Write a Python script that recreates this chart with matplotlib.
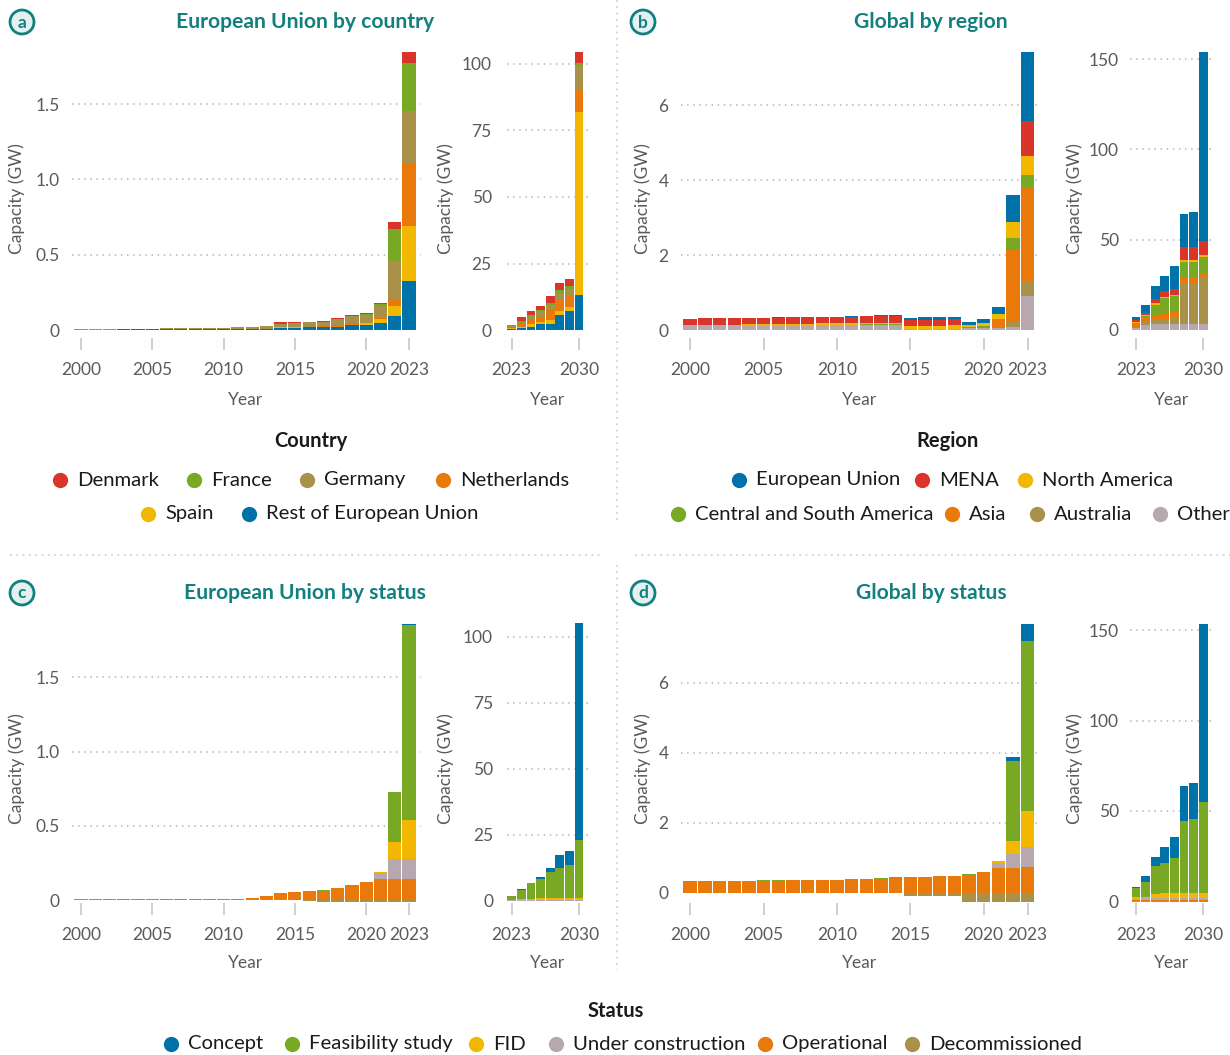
import numpy as np
import matplotlib.pyplot as plt
from matplotlib.patches import Circle

plt.rcParams['font.family'] = ['Lato', 'DejaVu Sans']

# ---------------- data (GW) ----------------
years = np.arange(2000, 2024)
years_p = np.arange(2023, 2031)

# (a) European Union by country, historic 2000-2023
rest_eu = [0, 0, 0, 0.007, 0.007, 0.007, 0.008, 0.008, 0.008, 0.008, 0.008, 0.005,
           0.005, 0.005, 0.015, 0.015, 0.02, 0.02, 0.022, 0.035, 0.035, 0.046, 0.093, 0.327]
spain = [0, 0, 0, 0, 0, 0, 0, 0, 0, 0, 0, 0.003,
         0, 0, 0.004, 0.005, 0, 0, 0, 0, 0.009, 0.029, 0.066, 0.363]
netherlands = [0, 0, 0, 0, 0.003, 0.002, 0, 0, 0, 0, 0, 0,
               0.005, 0.003, 0, 0, 0, 0.008, 0.009, 0.009, 0, 0.007, 0.044, 0.416]
germany = [0.005, 0.005, 0.005, 0.003, 0, 0, 0.003, 0.003, 0.003, 0.003, 0.003, 0.01,
           0.008, 0.019, 0.024, 0.027, 0.033, 0.027, 0.042, 0.046, 0.057, 0.077, 0.254, 0.347]
france = [0, 0, 0, 0, 0, 0, 0, 0, 0, 0, 0, 0,
          0, 0, 0, 0, 0, 0, 0, 0.004, 0.006, 0.013, 0.212, 0.319]
denmark = [0, 0, 0, 0, 0, 0, 0, 0, 0, 0, 0, 0,
           0, 0, 0.007, 0.009, 0, 0.006, 0.009, 0.006, 0.006, 0.006, 0.046, 0.073]

# (a) projection 2023-2030
rest_eu_p = [0.33, 0.8, 1.3, 2.3, 2.4, 5.6, 7.2, 13.2]
spain_p = [0.36, 0.3, 1.1, 0.9, 1.5, 1.6, 1.6, 68.6]
netherlands_p = [0.42, 1.3, 1.6, 1.8, 3.5, 4.4, 4.0, 8.5]
germany_p = [0.35, 0.4, 1.0, 2.0, 2.1, 2.4, 2.8, 9.2]
france_p = [0.32, 0.5, 0.6, 0.6, 0.75, 1.0, 1.0, 1.0]
denmark_p = [0.07, 1.5, 1.5, 1.25, 2.6, 2.6, 2.6, 4.1]

# (b) Global by region, historic
other = [0.133] * 15 + [0.035] * 4 + [0.062] * 3 + [0.089, 0.907]
australia = [0] * 22 + [0.133, 0.4]
asia = [0] * 21 + [0.231, 1.91, 2.507]
csa = [0, 0, 0, 0, 0, 0, 0, 0, 0, 0, 0, 0,
       0.027, 0.027, 0.027, 0, 0, 0, 0, 0.027, 0.044, 0, 0.32, 0.32]
north_america = [0] * 4 + [0.027] * 5 + [0.053] * 3 + [0.027] * 3 + [0.071] * 3 + \
                [0.098, 0.044, 0.08, 0.133, 0.427, 0.507]
mena = [0.16] + [0.196] * 3 + [0.169] * 3 + [0.187] * 2 + [0.16] * 3 + [0.187] * 3 + \
       [0.16] * 3 + [0.151] + [0] * 4 + [0.933]
eu = [0, 0, 0, 0, 0, 0, 0.027, 0, 0, 0, 0, 0.027,
      0, 0.027, 0.027, 0.062, 0.08, 0.08, 0.062, 0.08, 0.107, 0.187, 0.72, 1.84]

# (b) projection
other_p = [0.907, 2.8, 3.3, 3.3, 3.3, 3.3, 3.3, 3.3]
australia_p = [0.4, 1.8, 2.6, 2.6, 3.9, 22.7, 22.7, 26.0]
asia_p = [2.507, 2.8, 2.2, 3.0, 2.8, 2.95, 2.95, 2.2]
csa_p = [0.32, 0.6, 5.7, 9.0, 8.9, 8.7, 8.7, 8.9]
north_america_p = [0.507, 0.4, 1.1, 0.6, 0.6, 1.1, 1.1, 1.1]
mena_p = [0.933, 0.9, 2.2, 3.1, 3.3, 7.2, 7.2, 7.7]
eu_p = [1.84, 4.6, 7.2, 8.3, 12.7, 18.5, 19.4, 104.6]

# (c) European Union by status, historic
dec_eu = [0] * 16 + [-0.005] + [-0.013] * 7
op_eu = [0.004, 0.004, 0.004, 0.006, 0.006, 0.006, 0.006, 0.006, 0.006, 0.006, 0.006, 0.009,
         0.016, 0.029, 0.049, 0.056, 0.061, 0.063, 0.083, 0.101, 0.121, 0.144, 0.144, 0.144]
uc_eu = [0] * 21 + [0.036, 0.13, 0.13]
fid_eu = [0] * 21 + [0.009, 0.117, 0.265]
feas_eu = [0] * 17 + [0.004, 0, 0, 0, 0, 0.337, 1.315]
concept_eu = [0] * 23 + [0.007]

# (c) projection
dec_eu_p = [-0.013] * 8
op_eu_p = [0.144, 0.15, 0.15, 0.15, 0.15, 0.15, 0.15, 0.15]
uc_eu_p = [0.13, 0.13, 0.15, 0.3, 0.3, 0.3, 0.3, 0.3]
fid_eu_p = [0.265, 0.5, 0.4, 0.5, 0.5, 0.5, 0.5, 0.5]
feas_eu_p = [1.315, 3.3, 6.2, 7.5, 10.1, 11.7, 12.7, 22.2]
concept_eu_p = [0.007, 0.4, 0.05, 0.5, 1.6, 4.9, 5.4, 82.2]

# (d) Global by status, historic
dec_gl = [0] * 15 + [-0.095] * 4 + [-0.267] * 5
op_gl = [0.314, 0.314, 0.333, 0.333, 0.333, 0.343, 0.343, 0.362, 0.362, 0.362, 0.362, 0.39,
         0.39, 0.4, 0.43, 0.448, 0.448, 0.467, 0.476, 0.505, 0.59, 0.714, 0.714, 0.733]
uc_gl = [0] * 21 + [0.124, 0.4, 0.571]
fid_gl = [0] * 21 + [0.067, 0.371, 1.029]
feas_gl = [0.02, 0.02, 0, 0, 0, 0.02, 0.02, 0, 0, 0, 0, 0,
           0, 0.02, 0.02, 0, 0, 0.02, 0, 0.02, 0, 0, 2.276, 4.857]
concept_gl = [0] * 22 + [0.114, 0.486]

# (d) projection
dec_gl_p = [-0.27] * 8
op_gl_p = [0.733, 0.75, 0.75, 0.75, 0.75, 0.75, 0.75, 0.75]
uc_gl_p = [0.571, 0.7, 0.7, 1.0, 1.0, 1.0, 1.0, 1.0]
fid_gl_p = [1.029, 1.0, 2.6, 2.6, 2.6, 2.6, 2.6, 2.6]
feas_gl_p = [4.857, 8.1, 15.5, 16.6, 19.6, 39.9, 41.0, 50.5]
concept_gl_p = [0.486, 3.3, 5.0, 8.9, 11.5, 19.6, 20.0, 98.7]

country_names = ['Denmark', 'France', 'Germany', 'Netherlands', 'Spain', 'Rest of European Union']
region_names = ['European Union', 'MENA', 'North America', 'Central and South America',
                'Asia', 'Australia', 'Other']
status_names = ['Concept', 'Feasibility study', 'FID', 'Under construction',
                'Operational', 'Decommissioned']

# ---------------- style ----------------
BLUE = '#0072aa'
RED = '#d9352a'
YELLOW = '#f2b700'
GREEN = '#79a824'
ORANGE = '#e8790a'
TAN = '#aa914a'
MAUVE = '#b7a8b0'
TEAL = '#12807f'
GREY = '#5a5a5a'

W, H = 1230, 1055
fig = plt.figure(figsize=(W / 100, H / 100), dpi=100)


def px_axes(x0, x1, y0, y1):
    # pixel box with top-left origin -> figure axes
    return fig.add_axes([x0 / W, 1 - y1 / H, (x1 - x0) / W, (y1 - y0) / H])


def stacked(ax, yrs, series, colors):
    bottom = np.zeros(len(yrs))
    for vals, c in zip(series, colors):
        vals = np.asarray(vals, dtype=float)
        neg = vals < 0
        ax.bar(yrs, vals, width=0.92, bottom=np.where(neg, 0, bottom), color=c, lw=0, zorder=3)
        bottom = bottom + np.where(neg, 0, vals)


def style(ax, xlim, ylim, yticks, ylabels, xticks, ypad):
    ax.set_xlim(xlim)
    ax.set_ylim(ylim)
    for s in ax.spines.values():
        s.set_visible(False)
    ax.patch.set_alpha(0)
    ax.set_yticks(yticks, ylabels)
    ax.tick_params(axis='y', length=0, pad=ypad, labelsize=12.5, labelcolor=GREY)
    ax.set_xticks(xticks, [str(x) for x in xticks])
    ax.tick_params(axis='x', length=8.6, width=1.3, color='#cccccc', pad=8.5,
                   labelsize=12.5, labelcolor=GREY)
    for t in yticks[1:]:
        ax.axhline(t, color='#b5b5b5', ls=(0, (1, 3)), lw=1.1, zorder=1)


hist_ticks = [2000, 2005, 2010, 2015, 2020, 2023]
proj_ticks = [2023, 2030]

col_country = [BLUE, YELLOW, ORANGE, TAN, GREEN, RED]
col_region = [MAUVE, TAN, ORANGE, GREEN, YELLOW, RED, BLUE]
col_status = [TAN, ORANGE, MAUVE, YELLOW, GREEN, BLUE]

# (a)
ax = px_axes(72, 421, 48, 338)
stacked(ax, years, [rest_eu, spain, netherlands, germany, france, denmark], col_country)
style(ax, (1999.37, 2023.84), (-0.053, 1.872), [0, 0.5, 1.0, 1.5], ['0', '0.5', '1.0', '1.5'],
      hist_ticks, 9)
ax = px_axes(507, 588, 48, 338)
stacked(ax, years_p, [rest_eu_p, spain_p, netherlands_p, germany_p, france_p, denmark_p], col_country)
style(ax, (2022.51, 2030.93), (-3.0, 106.0), [0, 25, 50, 75, 100], ['0', '25', '50', '75', '100'],
      proj_ticks, 11)

# (b)
ax = px_axes(681, 1041, 48, 338)
stacked(ax, years, [other, australia, asia, csa, north_america, mena, eu], col_region)
style(ax, (1999.37, 2023.91), (-0.213, 7.52), [0, 2, 4, 6], ['0', '2', '4', '6'], hist_ticks, 9)
ax = px_axes(1130, 1212, 48, 338)
stacked(ax, years_p, [other_p, australia_p, asia_p, csa_p, north_america_p, mena_p, eu_p], col_region)
style(ax, (2022.375, 2030.92), (-4.43, 156.1), [0, 50, 100, 150], ['0', '50', '100', '150'],
      proj_ticks, 8)

# (c)
ax = px_axes(72, 421, 620, 903)
stacked(ax, years, [dec_eu, op_eu, uc_eu, fid_eu, feas_eu, concept_eu], col_status)
style(ax, (1999.37, 2023.84), (-0.02, 1.887), [0, 0.5, 1.0, 1.5], ['0', '0.5', '1.0', '1.5'],
      hist_ticks, 9)
ax = px_axes(507, 588, 620, 903)
stacked(ax, years_p, [dec_eu_p, op_eu_p, uc_eu_p, fid_eu_p, feas_eu_p, concept_eu_p], col_status)
style(ax, (2022.51, 2030.93), (-0.76, 106.3), [0, 25, 50, 75, 100], ['0', '25', '50', '75', '100'],
      proj_ticks, 10)

# (d)
ax = px_axes(681, 1041, 620, 903)
stacked(ax, years, [dec_gl, op_gl, uc_gl, fid_gl, feas_gl, concept_gl], col_status)
style(ax, (1999.37, 2023.91), (-0.294, 7.79), [0, 2, 4, 6], ['0', '2', '4', '6'], hist_ticks, 9)
ax = px_axes(1130, 1212, 620, 903)
stacked(ax, years_p, [dec_gl_p, op_gl_p, uc_gl_p, fid_gl_p, feas_gl_p, concept_gl_p], col_status)
style(ax, (2022.375, 2030.92), (-1.1, 155.8), [0, 50, 100, 150], ['0', '50', '100', '150'],
      proj_ticks, 8)

# ---------------- overlay: titles, labels, legends, separators ----------------
ov = fig.add_axes([0, 0, 1, 1], zorder=-1)
ov.set_xlim(0, W)
ov.set_ylim(H, 0)
ov.axis('off')

sep = dict(color='#c5d9dc', ls=(0, (1, 2.5)), lw=1.3)
ov.plot([617, 617], [0, 522], **sep)
ov.plot([617, 617], [565, 970], **sep)
ov.plot([10, 603], [555, 555], **sep)
ov.plot([635, 1230], [555, 555], **sep)

for letter, cx, cy, title, tx in [('a', 22, 22, 'European Union by country', 305),
                                  ('b', 643, 22, 'Global by region', 931),
                                  ('c', 22, 593, 'European Union by status', 305),
                                  ('d', 643, 593, 'Global by status', 931)]:
    ov.add_patch(Circle((cx, cy), 12, fc='#e4f1f1', ec=TEAL, lw=2))
    ov.text(cx, cy + 0.5, letter, ha='center', va='center', fontsize=12.5, fontweight='bold', color=TEAL)
    ov.text(tx, cy, title, ha='center', va='center', fontsize=15.2, fontweight='bold', color=TEAL)

for y in (199, 769):
    for x in (17, 446, 643, 1075):
        ov.text(x, y, 'Capacity (GW)', rotation=90, ha='center', va='center', fontsize=12.5, color=GREY)
for y in (400, 963):
    for x in (246, 547, 860, 1171):
        ov.text(x, y, 'Year', ha='center', va='center', fontsize=12.5, color=GREY)


def legend(title, tpos, items, colors):
    ov.text(tpos[0], tpos[1], title, ha='center', va='center', fontsize=14.5,
            fontweight='bold', color='#1a1a1a')
    for (name, mx, my), c in zip(items, colors):
        ov.plot(mx, my, 'o', ms=11, color=c, mec='none')
        ov.text(mx + 17, my, name, ha='left', va='center', fontsize=14.6, color='#1a1a1a')


legend('Country', (311, 441),
       [(country_names[0], 60, 480), (country_names[1], 194, 480), (country_names[2], 307, 480),
        (country_names[3], 443, 480), (country_names[4], 148, 514), (country_names[5], 249, 514)],
       [RED, GREEN, TAN, ORANGE, YELLOW, BLUE])
legend('Region', (947, 441),
       [(region_names[0], 739, 480), (region_names[1], 922, 480), (region_names[2], 1025, 480),
        (region_names[3], 678, 514), (region_names[4], 952, 514), (region_names[5], 1037, 514),
        (region_names[6], 1160, 514)],
       [BLUE, RED, YELLOW, GREEN, ORANGE, TAN, MAUVE])
legend('Status', (616, 1011),
       [(status_names[0], 171, 1044), (status_names[1], 292, 1044), (status_names[2], 476, 1044),
        (status_names[3], 556, 1044), (status_names[4], 765, 1044), (status_names[5], 912, 1044)],
       [BLUE, GREEN, YELLOW, MAUVE, ORANGE, TAN])

plt.savefig('out.png', dpi=100)
plt.close('all')
